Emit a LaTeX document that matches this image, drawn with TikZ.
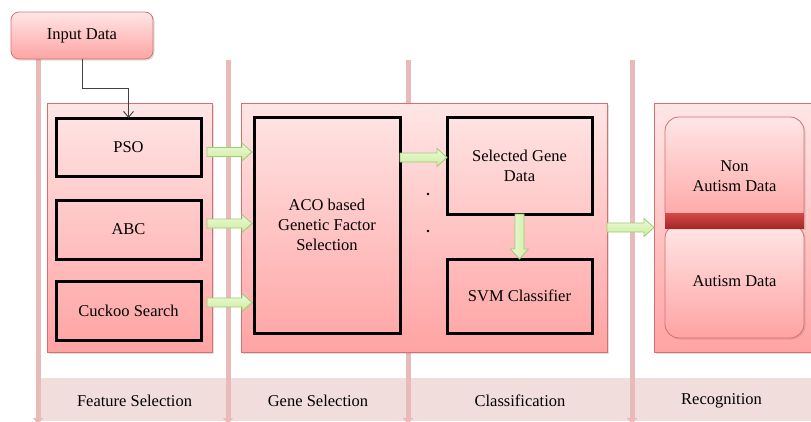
\documentclass[tikz,border=0pt]{standalone}
\usepackage{fontspec}
\setmainfont{Liberation Serif}
\usetikzlibrary{arrows.meta, calc, shadows}
\definecolor{panelline}{RGB}{214,112,112}
\definecolor{paneltop}{RGB}{255,230,230}
\definecolor{panelbottom}{RGB}{255,163,163}
\definecolor{laneline}{RGB}{232,186,186}
\definecolor{bandfill}{RGB}{242,221,221}
\definecolor{arrowtop}{RGB}{236,250,214}
\definecolor{arrowbottom}{RGB}{204,236,160}
\definecolor{arrowedge}{RGB}{160,202,116}
\definecolor{barred}{RGB}{212,72,72}
\definecolor{bardark}{RGB}{164,40,40}

% fat green arrows: start point gives the height, end point the tip
\newcommand{\blockright}[2]{%
  \path[top color=arrowtop, bottom color=arrowbottom, draw=arrowedge, line width=0.8pt]
    let \p1=(#1), \p2=(#2) in
    (\x1,\y1+4.5pt) -- (\x2-10pt,\y1+4.5pt) -- (\x2-10pt,\y1+9pt) -- (\x2,\y1)
    -- (\x2-10pt,\y1-9pt) -- (\x2-10pt,\y1-4.5pt) -- (\x1,\y1-4.5pt) -- cycle;}
\newcommand{\blockdown}[2]{%
  \path[left color=arrowtop, right color=arrowbottom, draw=arrowedge, line width=0.8pt]
    let \p1=(#1), \p2=(#2) in
    (\x1-4.5pt,\y1) -- (\x1-4.5pt,\y2+10pt) -- (\x1-9pt,\y2+10pt) -- (\x1,\y2)
    -- (\x1+9pt,\y2+10pt) -- (\x1+4.5pt,\y2+10pt) -- (\x1+4.5pt,\y1) -- cycle;}

\begin{document}
\begin{tikzpicture}[x=1pt, y=-1pt,
  font=\fontsize{16.5}{20}\selectfont,
  panel/.style={draw=panelline, line width=0.8pt, top color=paneltop,
    bottom color=panelbottom, inner sep=0pt, outer sep=0pt,
    drop shadow={opacity=0.25, shadow xshift=1.5pt, shadow yshift=-1.5pt}},
  stepbox/.style={draw=black, line width=3pt, inner sep=0pt, outer sep=0pt, align=center},
  roundbox/.style={panel, rounded corners=14pt, align=center},
  lane/.style={draw=laneline, line width=5pt, -{Triangle[length=6pt,width=10pt]}},
  inputline/.style={draw=black!75, line width=0.9pt, -{Straight Barb[length=6pt,width=10pt]}},
  ]
  \useasboundingbox (0,0) rectangle (811,421);
  \clip (0,0) rectangle (811,421);

  % band with the stage names
  \fill[bandfill] (41,378) rectangle (811,421);
  \node (featlabel) at (134.5,401) {Feature Selection};
  \node (genelabel) at (318,401) {Gene Selection};
  \node (classlabel) at (520,401) {Classification};
  \node (recoglabel) at (721.5,401) {Recognition};

  % lanes
  \foreach \lx/\ly in {38/59, 228/60, 408/60, 632/60}
    \draw[lane] (\lx,\ly) -- (\lx,424);

  % input
  \node[roundbox, rounded corners=8pt, minimum width=142pt, minimum height=47pt]
    (input) at (82,35.5) {Input Data};

  % feature selection
  \node[panel, minimum width=165pt, minimum height=249pt] (featpanel) at (129.5,227.5) {};
  \node[stepbox, minimum width=145pt, minimum height=58pt] (pso) at (128.5,147) {PSO};
  \node[stepbox, minimum width=145pt, minimum height=59pt] (abc) at (128.5,229.5) {ABC};
  \node[stepbox, minimum width=145pt, minimum height=59pt] (cuckoo) at (128.5,310.5) {Cuckoo Search};

  % gene selection and classification
  \node[panel, minimum width=366pt, minimum height=249pt] (genepanel) at (424,227.5) {};
  \node[stepbox, minimum width=146pt, minimum height=216pt] (aco) at (327,225)
    {ACO based\\Genetic Factor\\Selection};
  \node[stepbox, minimum width=145pt, minimum height=97pt] (sel) at (519.5,165.5)
    {Selected Gene\\Data};
  \node[stepbox, minimum width=145pt, minimum height=74pt] (svm) at (519.5,296) {SVM Classifier};
  \fill (428,194) circle (1.4pt);
  \fill (428,231) circle (1.4pt);

  % recognition
  \node[panel, minimum width=176pt, minimum height=249pt] (recogpanel) at (742,227.5) {};
  \node[roundbox, minimum width=139pt, minimum height=108pt] (nonaut) at (734.5,171)
    {\rule{0pt}{22pt}Non\\Autism Data};
  \node[roundbox, minimum width=139pt, minimum height=114pt] (aut) at (734.5,281) {Autism Data};
  \node[top color=barred, bottom color=bardark, minimum width=139pt, minimum height=15pt,
    inner sep=0pt, drop shadow={opacity=0.2, shadow yshift=-1.5pt}] (divider) at (734.5,220.5) {};

  % connectors
  \draw[inputline] (input.south) -- ++(0,29) -| (pso.north);
  \blockright{$(pso.east)+(6,5)$}{$(aco.west)+(-2,0)$}
  \blockright{$(abc.east)+(6,-6)$}{$(aco.west)+(-2,0)$}
  \blockright{$(cuckoo.east)+(6,-8)$}{$(aco.west)+(-2,0)$}
  \blockright{$(aco.east |- sel.west)+(0,-8)$}{sel.west}
  \blockdown{sel.south}{svm.north}
  \blockright{genepanel.east}{recogpanel.west}

\end{tikzpicture}
\end{document}
